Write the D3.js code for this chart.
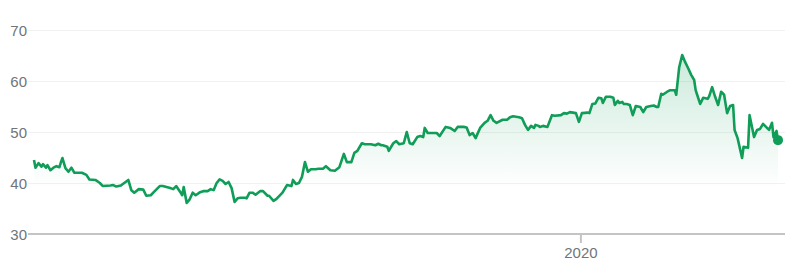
<!DOCTYPE html>
<html>
<head>
<meta charset="utf-8">
<script src="https://cdn.jsdelivr.net/npm/d3@7"></script>
<style>
    body { margin: 0; background: #fff; }
    .axis text { font-family: "Liberation Sans", Arial, sans-serif; font-size: 15px; fill: #70757a; }
</style>
</head>
<body>
<svg class="chart" width="793" height="278"></svg>
<script>
// Day offsets from the first point (2019-01-01) and closing prices.
const startDate = new Date(2019, 0, 1);

const days = [0, 1, 3, 5, 6, 8, 9, 11, 13, 15, 17, 18, 19, 21, 23, 25, 27, 32, 35, 37,
    41, 44, 46, 51, 53, 55, 58, 63, 65, 67, 70, 73, 75, 78, 80, 84, 86, 91, 93, 95,
    98, 99, 100, 102, 104, 106, 108, 111, 113, 116, 118, 120, 122, 124, 126, 128, 130, 132, 134, 136,
    138, 141, 142, 144, 146, 148, 151, 153, 156, 157, 160, 162, 166, 167, 169, 172, 173, 175, 177, 179,
    181, 183, 185, 188, 190, 193, 195, 198, 201, 204, 207, 209, 212, 214, 216, 219, 221, 225, 228, 230,
    232, 233, 236, 237, 240, 242, 244, 247, 249, 251, 253, 256, 258, 260, 261, 263, 267, 269, 271, 275,
    278, 281, 283, 287, 289, 291, 293, 295, 298, 301, 303, 305, 307, 309, 313, 316, 318, 320, 324, 326,
    328, 330, 332, 334, 335, 337, 338, 340, 343, 346, 348, 352, 354, 356, 358, 360, 362, 364, 366, 370,
    371, 373, 375, 377, 379, 380, 382, 385, 387, 388, 390, 391, 393, 394, 396, 398, 400, 402, 405, 407,
    409, 412, 414, 416, 417, 419, 420, 423, 425, 428, 429, 431, 433, 435, 437, 439, 441, 442, 443, 445,
    447, 450, 451, 453, 455, 457, 459, 461, 463, 465, 467, 468, 470, 473, 474, 477, 478, 481, 483, 485,
    487, 489, 491, 493, 494, 496, 497];

const prices = [44.5, 43.0, 43.9, 43.2, 43.7, 43.0, 43.5, 42.5, 43.0, 43.3, 43.1, 44.1, 44.9, 42.9, 42.2, 43.0, 42.0, 42.0, 41.6, 40.7,
    40.6, 40.0, 39.4, 39.5, 39.6, 39.3, 39.5, 40.6, 38.6, 38.1, 38.8, 38.7, 37.5, 37.6, 38.2, 39.4, 39.4, 39.0, 38.8, 39.4,
    38.1, 37.6, 39.2, 36.1, 36.8, 38.1, 37.6, 38.2, 38.4, 38.4, 38.8, 38.6, 40.0, 40.7, 40.4, 39.8, 40.2, 39.0, 36.3, 37.0,
    37.1, 37.1, 37.0, 38.1, 38.1, 37.7, 38.4, 38.4, 37.5, 37.5, 36.5, 36.9, 38.1, 38.6, 39.6, 39.4, 40.6, 39.8, 40.0, 41.2,
    44.1, 42.2, 42.7, 42.7, 42.8, 42.8, 43.3, 42.5, 42.4, 43.1, 45.7, 44.1, 44.1, 45.9, 46.3, 47.8, 47.6, 47.6, 47.4, 47.7,
    47.4, 47.4, 47.1, 46.3, 47.8, 48.2, 47.6, 47.8, 50.0, 47.8, 47.6, 49.0, 49.2, 49.0, 50.8, 49.8, 49.8, 49.8, 49.2, 51.0,
    50.8, 50.2, 51.0, 51.0, 50.9, 49.4, 49.8, 48.8, 50.8, 51.8, 52.2, 53.3, 52.2, 51.8, 52.4, 52.4, 52.9, 53.1, 52.9, 52.7,
    51.4, 50.4, 51.2, 50.8, 51.4, 51.2, 51.0, 51.2, 51.0, 53.3, 53.2, 53.3, 53.7, 53.6, 53.9, 53.8, 53.7, 52.0, 53.7, 53.8,
    53.7, 55.5, 55.6, 56.7, 56.6, 55.7, 56.9, 56.9, 56.7, 55.3, 56.1, 55.7, 55.9, 55.5, 55.5, 55.3, 53.3, 55.1, 54.9, 53.9,
    54.9, 55.1, 55.2, 54.9, 54.9, 57.5, 57.3, 57.9, 58.2, 58.2, 57.3, 62.7, 65.1, 63.7, 62.5, 61.2, 60.2, 58.2, 57.3, 55.5,
    56.7, 56.5, 57.0, 58.8, 56.9, 55.3, 57.9, 57.3, 53.7, 55.1, 55.3, 50.4, 48.8, 44.9, 47.1, 46.9, 53.3, 49.0, 50.4, 50.6,
    51.6, 51.0, 50.4, 51.8, 49.0, 50.2, 48.4];

const yTicks = [30, 40, 50, 60, 70];
const xTickYears = [2020];

const data = days.map((d, i) => ({ date: d3.timeDay.offset(startDate, d), value: prices[i] }));

const svg = d3.select('.chart');
const green = '#0f9d58';

// plot area edges
const gridLeft = 28, gridRight = 785;

const x = d3.scaleTime()
    .domain(d3.extent(data, d => d.date))
    .range([34, 778]);

const y = d3.scaleLinear()
    .domain([30, 70])
    .range([234, 30]);

// gradient under the line, fading out towards the 40 line
const grad = svg.append('defs').append('linearGradient')
    .attr('id', 'fill')
    .attr('gradientUnits', 'userSpaceOnUse')
    .attr('x1', 0).attr('x2', 0)
    .attr('y1', y(66)).attr('y2', y(39));
grad.append('stop').attr('offset', 0).attr('stop-color', green).attr('stop-opacity', 0.22);
grad.append('stop').attr('offset', 1).attr('stop-color', green).attr('stop-opacity', 0);

// horizontal grid + y labels
const yAxis = svg.append('g')
    .attr('class', 'axis')
    .attr('transform', 'translate(' + gridLeft + ',0)')
    .call(d3.axisLeft(y).tickValues(yTicks).tickSize(-(gridRight - gridLeft)).tickPadding(1));
yAxis.select('.domain').remove();
yAxis.selectAll('.tick line')
    .attr('stroke', (d) => d === 30 ? 'none' : '#f1f1f1');
yAxis.selectAll('.tick text').attr('dy', '0.36em');

svg.append('path')
    .datum(data)
    .attr('fill', 'url(#fill)')
    .attr('d', d3.area().x(d => x(d.date)).y0(y(30)).y1(d => y(d.value)));

svg.append('path')
    .datum(data)
    .attr('fill', 'none')
    .attr('stroke', green)
    .attr('stroke-width', 2.6)
    .attr('stroke-linejoin', 'round')
    .attr('d', d3.line().x(d => x(d.date)).y(d => y(d.value)));

// baseline and year ticks
const xAxis = svg.append('g')
    .attr('class', 'axis')
    .attr('transform', 'translate(0,' + y(30) + ')')
    .call(d3.axisBottom(x).tickValues(xTickYears.map(yr => new Date(yr, 0, 1)))
        .tickFormat(d3.timeFormat('%Y')).tickSize(9).tickSizeOuter(0).tickPadding(4));
xAxis.select('.domain')
    .attr('d', 'M' + gridLeft + ',0H' + gridRight)
    .attr('stroke', '#c4c4c4')
    .attr('stroke-width', 2);
xAxis.selectAll('.tick line').attr('stroke', '#c4c4c4').attr('stroke-width', 2);

const last = data[data.length - 1];
svg.append('circle')
    .attr('cx', x(last.date))
    .attr('cy', y(last.value))
    .attr('r', 5)
    .attr('fill', green);
</script>
</body>
</html>
